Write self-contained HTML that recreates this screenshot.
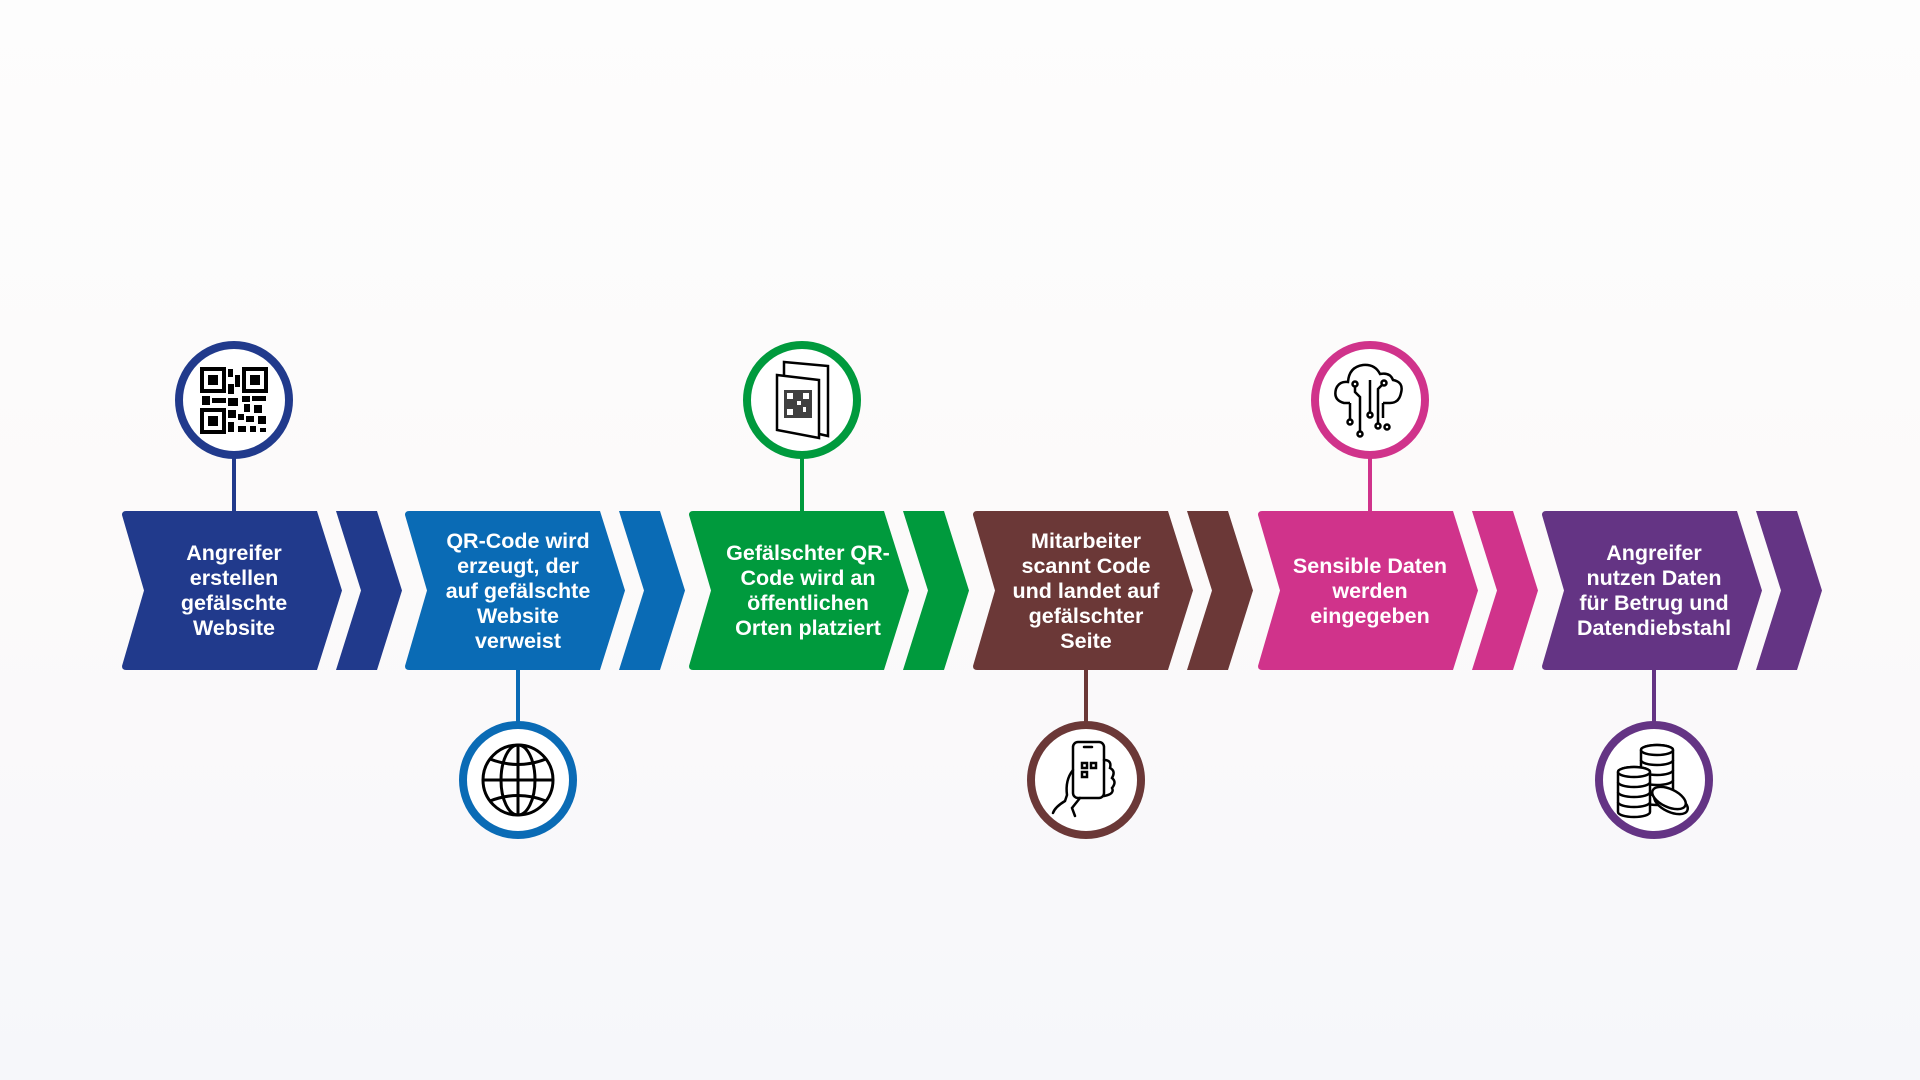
<!DOCTYPE html>
<html><head><meta charset="utf-8"><style>
html,body{margin:0;padding:0}
body{width:1920px;height:1080px;overflow:hidden;background:linear-gradient(180deg,#fdfdfd 0%,#fcfafa 50%,#f6f7fa 100%);font-family:"Liberation Sans",sans-serif}
svg{display:block}
text{font-family:"Liberation Sans",sans-serif;font-weight:bold;fill:#fff;font-size:21.5px;text-anchor:middle}
</style></head><body>
<svg width="1920" height="1080" viewBox="0 0 1920 1080" xmlns="http://www.w3.org/2000/svg">
<defs>
<g id="chev">
<path d="M4,0 L195,0 L220,79.5 L195,159 L4,159 Q0,159 0,155 L22,79.5 L0,4 Q0,0 4,0Z"/>
<path d="M214,0 L255,0 L280,79.5 L255,159 L214,159 L239,79.5Z"/>
</g>
</defs>

<!-- Step 1 -->
<g transform="translate(122,511)" fill="#213a8c"><use href="#chev"/></g>
<line x1="234" y1="455" x2="234" y2="511" stroke="#213a8c" stroke-width="4"/>
<circle cx="234" cy="400" r="55" fill="#fff" stroke="#213a8c" stroke-width="8"/>
<g fill="#000">
<rect x="202" y="369" width="22" height="22" fill="none" stroke="#000" stroke-width="4"/><rect x="208" y="375" width="10" height="10"/>
<rect x="244" y="369" width="22" height="22" fill="none" stroke="#000" stroke-width="4"/><rect x="250" y="375" width="10" height="10"/>
<rect x="202" y="410" width="22" height="22" fill="none" stroke="#000" stroke-width="4"/><rect x="208" y="416" width="10" height="10"/>
<rect x="228" y="369" width="5" height="8"/><rect x="235" y="375" width="5" height="12"/><rect x="228" y="384" width="6" height="10"/>
<rect x="202" y="396" width="8" height="9"/><rect x="212" y="398" width="14" height="5"/><rect x="228" y="398" width="10" height="8"/>
<rect x="242" y="396" width="8" height="6"/><rect x="252" y="396" width="14" height="5"/><rect x="244" y="404" width="6" height="8"/>
<rect x="254" y="405" width="8" height="8"/><rect x="228" y="410" width="8" height="8"/><rect x="238" y="414" width="6" height="6"/>
<rect x="246" y="416" width="8" height="6"/><rect x="258" y="416" width="8" height="8"/><rect x="228" y="422" width="6" height="10"/>
<rect x="238" y="426" width="8" height="6"/><rect x="250" y="426" width="6" height="6"/><rect x="260" y="428" width="6" height="4"/>
</g>
<text x="234" y="560">Angreifer</text><text x="234" y="585">erstellen</text><text x="234" y="610">gefälschte</text><text x="234" y="635">Website</text>

<!-- Step 2 -->
<g transform="translate(405,511)" fill="#0a6bb5"><use href="#chev"/></g>
<line x1="518" y1="670" x2="518" y2="725" stroke="#0a6bb5" stroke-width="4"/>
<circle cx="518" cy="780" r="55" fill="#fff" stroke="#0a6bb5" stroke-width="8"/>
<g fill="none" stroke="#000" stroke-width="3">
<circle cx="518" cy="780" r="35"/><ellipse cx="518" cy="780" rx="17" ry="35"/>
<line x1="518" y1="745" x2="518" y2="815"/><line x1="483" y1="780" x2="553" y2="780"/>
<path d="M490,759 Q518,770 546,759"/><path d="M490,801 Q518,790 546,801"/>
</g>
<text x="518" y="548">QR-Code wird</text><text x="518" y="573">erzeugt, der</text><text x="518" y="598">auf gefälschte</text><text x="518" y="623">Website</text><text x="518" y="648">verweist</text>

<!-- Step 3 -->
<g transform="translate(689,511)" fill="#009a3d"><use href="#chev"/></g>
<line x1="802" y1="455" x2="802" y2="511" stroke="#009a3d" stroke-width="4"/>
<circle cx="802" cy="400" r="55" fill="#fff" stroke="#009a3d" stroke-width="8"/>
<g fill="none" stroke="#000" stroke-width="2.5">
<path d="M784,362 L828,366 L828,436 L784,426 Z" fill="#fff"/>
<path d="M777,375 L819,380 L819,438 L777,430 Z" fill="#fff"/>
</g>
<g fill="#000"><rect x="784" y="390" width="28" height="28" opacity="0.75"/></g>
<g fill="#fff"><rect x="787" y="393" width="6" height="6"/><rect x="803" y="393" width="6" height="6"/><rect x="787" y="409" width="6" height="6"/><rect x="797" y="401" width="4" height="4"/><rect x="803" y="407" width="3" height="5"/></g>
<text x="808" y="560">Gefälschter QR-</text><text x="808" y="585">Code wird an</text><text x="808" y="610">öffentlichen</text><text x="808" y="635">Orten platziert</text>

<!-- Step 4 -->
<g transform="translate(973,511)" fill="#6b3837"><use href="#chev"/></g>
<line x1="1086" y1="670" x2="1086" y2="725" stroke="#6b3837" stroke-width="4"/>
<circle cx="1086" cy="780" r="55" fill="#fff" stroke="#6b3837" stroke-width="8"/>
<g fill="none" stroke="#000" stroke-width="2.5" stroke-linecap="round">
<rect x="1073" y="742" width="31" height="56" rx="5"/>
<line x1="1084" y1="747" x2="1092" y2="747"/>
<rect x="1082" y="763" width="5" height="5"/><rect x="1091" y="763" width="5" height="5"/><rect x="1082" y="772" width="5" height="5"/>
<path d="M1104,760 q8,0 6,8 q6,3 2,10 q5,4 0,10 q3,6 -8,8"/>
<path d="M1073,770 q-8,10 -6,25 l-2,6 q-10,6 -12,12"/>
<path d="M1080,798 l-8,10 l3,8"/>
</g>
<text x="1086" y="548">Mitarbeiter</text><text x="1086" y="573">scannt Code</text><text x="1086" y="598">und landet auf</text><text x="1086" y="623">gefälschter</text><text x="1086" y="648">Seite</text>

<!-- Step 5 -->
<g transform="translate(1258,511)" fill="#d0338b"><use href="#chev"/></g>
<line x1="1370" y1="455" x2="1370" y2="511" stroke="#d0338b" stroke-width="4"/>
<circle cx="1370" cy="400" r="55" fill="#fff" stroke="#d0338b" stroke-width="8"/>
<g fill="none" stroke="#000" stroke-width="2.5">
<path d="M1350,403 L1344,403 Q1333,400 1336,389 Q1339,381 1348,382 Q1349,367 1363,365 Q1375,364 1380,374 Q1390,372 1393,380 Q1404,382 1401,393 Q1399,403 1390,403 L1383,403"/>
<circle cx="1355" cy="384" r="2.5"/><path d="M1355,387 L1355,392 L1360,397 L1360,431"/><circle cx="1360" cy="434" r="2.5"/>
<circle cx="1384" cy="383" r="2.5"/><path d="M1382,385 L1378,389 L1378,423"/><circle cx="1378" cy="426" r="2.5"/>
<path d="M1350,403 L1350,419"/><circle cx="1350" cy="422" r="2.5"/>
<path d="M1383,403 L1383,418"/><circle cx="1383" cy="421" r="2.5" transform="translate(4,6)"/>
<path d="M1370,380 L1370,412"/><circle cx="1370" cy="415" r="2.5"/>
</g>
<text x="1370" y="573">Sensible Daten</text><text x="1370" y="598">werden</text><text x="1370" y="623">eingegeben</text>

<!-- Step 6 -->
<g transform="translate(1542,511)" fill="#643484"><use href="#chev"/></g>
<line x1="1654" y1="670" x2="1654" y2="725" stroke="#643484" stroke-width="4"/>
<circle cx="1654" cy="780" r="55" fill="#fff" stroke="#643484" stroke-width="8"/>
<g fill="#fff" stroke="#000" stroke-width="2.5">
<path d="M1641,750 a16,5 0 0 1 32,0 v50 a16,5 0 0 1 -32,0 z"/>
<ellipse cx="1657" cy="750" rx="16" ry="5"/>
<path d="M1641,760 a16,5 0 0 0 32,0 M1641,770 a16,5 0 0 0 32,0 M1641,780 a16,5 0 0 0 32,0 M1641,790 a16,5 0 0 0 32,0" fill="none"/>
<path d="M1618,772 a16,5 0 0 1 32,0 v40 a16,5 0 0 1 -32,0 z"/>
<ellipse cx="1634" cy="772" rx="16" ry="5"/>
<path d="M1618,782 a16,5 0 0 0 32,0 M1618,792 a16,5 0 0 0 32,0 M1618,802 a16,5 0 0 0 32,0" fill="none"/>
<ellipse cx="1671" cy="803" rx="18" ry="9" transform="rotate(25 1671 803)"/>
<ellipse cx="1669" cy="798" rx="18" ry="9" transform="rotate(25 1669 798)"/>
</g>
<text x="1654" y="560">Angreifer</text><text x="1654" y="585">nutzen Daten</text><text x="1654" y="610">für Betrug und</text><text x="1654" y="635">Datendiebstahl</text>
</svg>
</body></html>
